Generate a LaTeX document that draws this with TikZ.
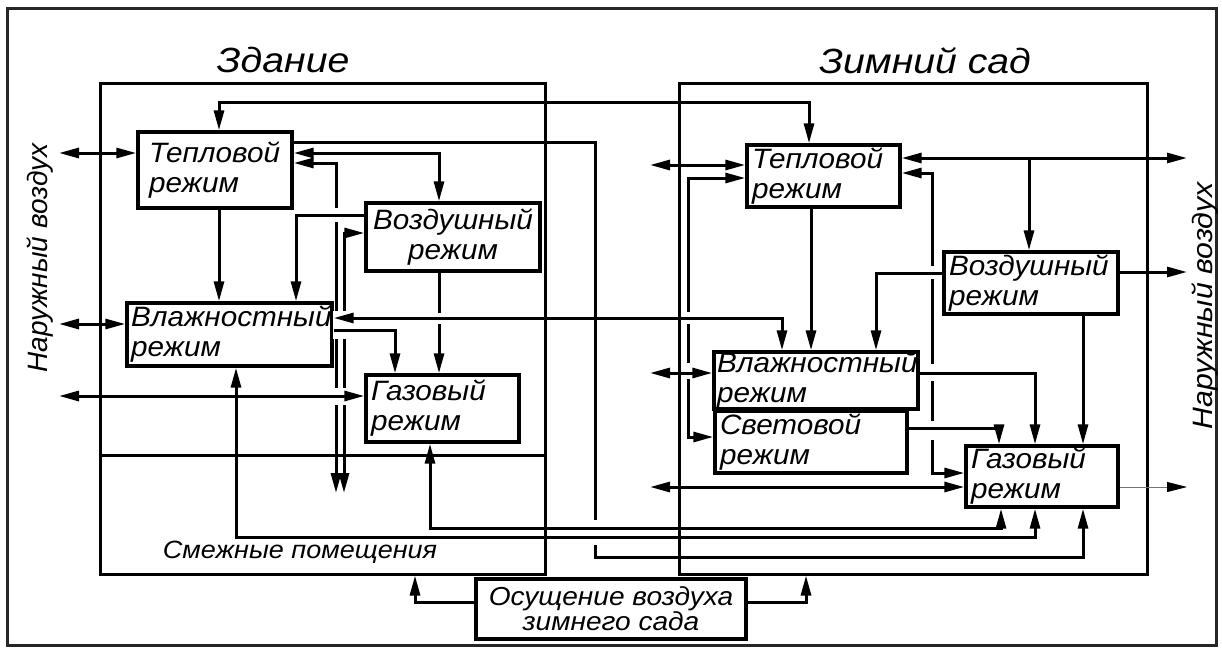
\documentclass[tikz,border=0pt]{standalone}
\usepackage{fontspec}
\setmainfont{Liberation Sans}
\newfontfamily\boxfont{Liberation Sans}[FakeStretch=1.06]
\newfontfamily\headfont{Liberation Sans}[FakeStretch=1.12]
\newfontfamily\roomfont{Liberation Sans}[FakeStretch=1.08]
\usetikzlibrary{arrows.meta}

\tikzset{
  regime/.style={draw, line width=3.4pt, align=left, inner xsep=5pt, inner ysep=0pt,
    font=\boxfont\itshape\fontsize{28}{30}\selectfont},
  zone/.style={draw, line width=3pt, inner sep=0pt},
  link/.style={line width=3pt, -{Triangle[length=20pt,width=10pt]}},
  duplex/.style={line width=3pt, {Triangle[length=20pt,width=10pt]}-{Triangle[length=20pt,width=10pt]}},
  head/.style={anchor=base, font=\headfont\itshape\fontsize{35}{37}\selectfont},
  side/.style={anchor=base, rotate=90, font=\itshape\fontsize{28}{30}\selectfont}
}

\begin{document}
\begin{tikzpicture}[x=1pt,y=-1pt]
\useasboundingbox (0,0) rectangle (1222,648);
\draw[line width=3pt, black!85] (7,8) rectangle (1216,645);

% zones
\node[zone, minimum width=445, minimum height=491] (bld) at (322.5,328.5) {};
\node[zone, minimum width=468, minimum height=491] (gdn) at (913,328.5) {};
\draw[line width=3pt] (bld.west |- 0,455) -- (bld.east |- 0,455);
\node[head] (tbld) at (283,72) {Здание};
\node[head] (tgdn) at (925,73) {Зимний сад};
\node[anchor=base, font=\roomfont\itshape\fontsize{25}{27}\selectfont] (adj) at (300,558) {Смежные помещения};
\node[side] (airW) at (47,258) {Наружный воздух};
\node[side, font=\roomfont\itshape\fontsize{28}{30}\selectfont] (airE) at (1212,306) {Наружный воздух};

% regimes, building
\node[regime, inner xsep=11pt, text width=132, minimum height=76] (teplL) at (215,170) {Тепловой\\режим};
\node[regime, align=center, text width=164, minimum height=68] (vozdL) at (453,237) {Воздушный\\режим};
\node[regime, inner xsep=4pt, text width=197, minimum height=63] (vlazL) at (229.5,334.5) {Влажностный\\режим};
\node[regime, text width=143, minimum height=67] (gazL) at (442.5,408.5) {Газовый\\режим};
% regimes, garden
\node[regime, text width=143, minimum height=62] (teplR) at (823.5,176) {Тепловой\\режим};
\node[regime, text width=164, minimum height=62] (vozdR) at (1031,283) {Воздушный\\режим};
\node[regime, inner xsep=3pt, text width=198, minimum height=57] (vlazR) at (816,380.5) {Влажностный\\режим};
\node[regime, text width=182, minimum height=62] (svetR) at (811,442) {Световой\\режим};
\node[regime, text width=142, minimum height=61] (gazR) at (1042,476.5) {Газовый\\режим};
\node[regime, align=center, inner xsep=0pt, minimum width=270, minimum height=60,
  font=\roomfont\itshape\fontsize{26}{25}\selectfont] (osush) at (611,609) {Осущение воздуха\\зимнего сада};

% free ends
\coordinate (oW1) at (59,153);
\coordinate (oW2) at (59,324);
\coordinate (oW3) at (59,396);
\coordinate (oG1) at (650,165);
\coordinate (oG2) at (650,373);
\coordinate (oG3) at (650,487);
\coordinate (oE1) at (1187,158);
\coordinate (oE2) at (1187,272);
\coordinate (oE3) at (1187,487);
\coordinate (adjA) at (336,493);
\coordinate (adjB) at (344,493);
\coordinate (split) at (1029,158);

% runs that are broken at crossings
\draw[duplex] (teplL.east |- 0,163) -- (336,163) -- (adjA);
\draw[duplex] (vozdL.west |- 0,233) -- (344,233) -- (adjB);
\draw[link] (439,0 |- vozdL.south) -- (439,0 |- gazL.north);
\draw[link] (teplL.east |- 0,142) -- (595,142) -- (595,557) -- (1083,557) -- (1083,0 |- gazR.south);
\draw[duplex] (teplR.west |- 0,178) -- (688,178) -- (688,437) -- (svetR.west |- 0,437);
\draw[duplex] (teplR.east |- 0,173) -- (932,173) -- (932,473) -- (gazR.west |- 0,473);
\foreach \x/\ya/\yb in {336/208/222, 336/311/339, 336/388/405, 344/311/339, 344/388/405,
  439/313/324, 595/520/545, 688/312/324, 688/363/379, 932/266/279, 932/364/381, 932/421/440}
  \fill[white] (\x-2.6,\ya) rectangle (\x+2.6,\yb);

% building
\draw[duplex] (oW1) -- (oW1 -| teplL.west);
\draw[duplex] (oW2) -- (oW2 -| vlazL.west);
\draw[duplex] (oW3) -- (oW3 -| gazL.west);
\draw[duplex] (219,0 |- teplL.north) -- (219,102) -- (809,102) -- (809,0 |- teplR.north);
\draw[link] (219,0 |- teplL.south) -- (219,0 |- vlazL.north);
\draw[duplex] (teplL.east |- 0,153) -- (439,153) -- (439,0 |- vozdL.north);
\draw[link] (vozdL.west |- 0,215) -- (296,215) -- (296,0 |- vlazL.north);
\draw[link] (vlazL.east |- 0,330) -- (395,330) -- (395,0 |- gazL.north);
\draw[duplex] (vlazL.east |- 0,318) -- (782,318) -- (782,0 |- vlazR.north);
\draw[duplex] (430,0 |- gazL.south) -- (430,528) -- (1001,528) -- (1001,0 |- gazR.south);
\draw[duplex] (236,0 |- vlazL.south) -- (236,537) -- (1035,537) -- (1035,0 |- gazR.south);
\draw[link] (osush.west |- 0,602) -- (415,602) -- (415,0 |- bld.south);
\draw[link] (osush.east |- 0,602) -- (806,602) -- (806,0 |- gdn.south);

% garden
\draw[duplex] (oG1) -- (oG1 -| teplR.west);
\draw[duplex] (oG2) -- (oG2 -| vlazR.west);
\draw[duplex] (oG3) -- (oG3 -| gazR.west);
\draw[link] (811,0 |- teplR.south) -- (811,0 |- vlazR.north);
\draw[link] (vozdR.west |- 0,273) -- (876,273) -- (876,0 |- vlazR.north);
\draw[duplex] (teplR.east |- oE1) -- (oE1);
\draw[link] (split) -- (split |- vozdR.north);
\draw[link] (vlazR.east |- 0,373) -- (1035,373) -- (1035,0 |- gazR.north);
\draw[link] (svetR.east |- 0,428) -- (999,428) -- (999,0 |- gazR.north);
\draw[link] (1083,0 |- vozdR.south) -- (1083,0 |- gazR.north);
\draw[link] (vozdR.east |- oE2) -- (oE2);
\draw[line width=0.8pt, black!55, -{Triangle[length=20pt,width=10pt,color=black]}] (gazR.east |- oE3) -- (oE3);
\end{tikzpicture}
\end{document}
